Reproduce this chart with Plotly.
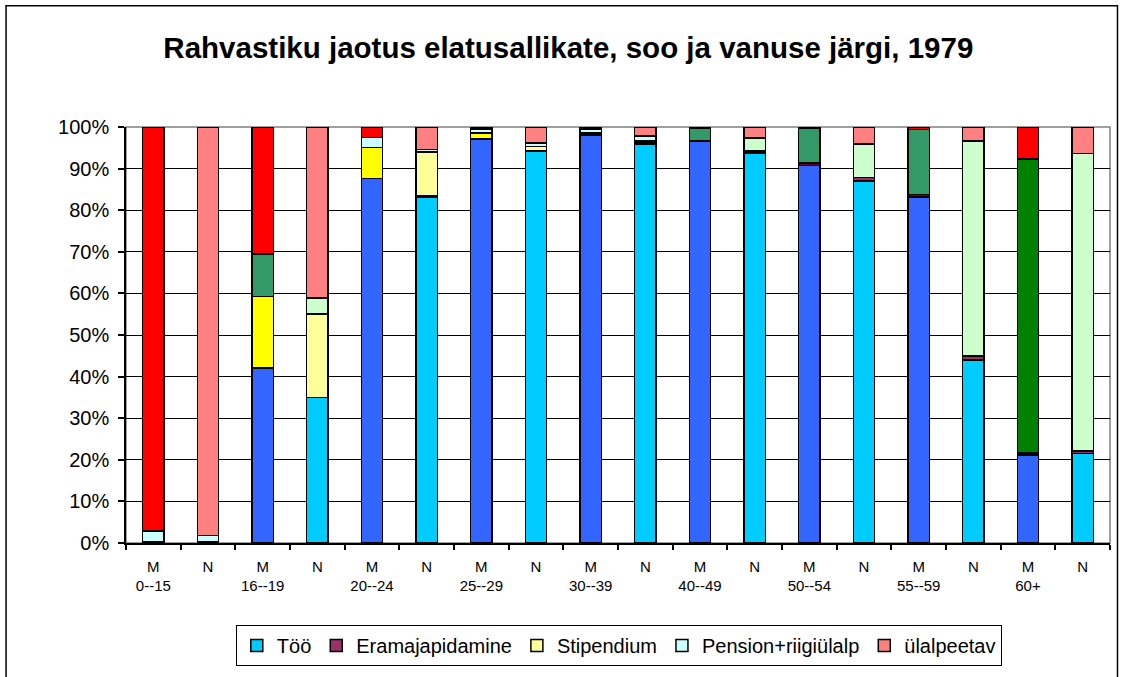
import plotly.graph_objects as go

# Age groups; each group has a bar for men (M) and women (N)
age_groups = ["0--15", "16--19", "20--24", "25--29", "30--39",
              "40--49", "50--54", "55--59", "60+"]
sexes = ["M", "N"]

# Share of population by source of income, %, bars in order M, N, M, N, ...
too = [0.2, 0.3, 42.1, 35.0, 87.6, 83.2, 97.0, 94.2, 98.0,
       95.9, 96.6, 93.8, 90.8, 87.0, 83.2, 44.0, 21.1, 21.5]
eramajapidamine = [0.0, 0.0, 0.0, 0.0, 0.0, 0.2, 0.2, 0.2, 0.3,
                   0.5, 0.2, 0.4, 0.6, 0.9, 0.6, 1.0, 0.5, 0.6]
stipendium = [0.0, 0.0, 17.2, 20.0, 7.5, 10.6, 1.3, 0.9, 0.2,
              0.3, 0.0, 0.1, 0.0, 0.0, 0.0, 0.0, 0.0, 0.0]
pension = [2.7, 1.5, 10.2, 3.9, 2.4, 0.6, 1.0, 0.9, 1.0,
           1.1, 2.9, 3.1, 8.2, 8.0, 15.6, 51.6, 70.7, 71.5]
ulalpeetav = [97.1, 98.2, 30.5, 41.1, 2.5, 5.4, 0.5, 3.8, 0.5,
              2.2, 0.3, 2.6, 0.4, 4.1, 0.6, 3.4, 7.7, 6.4]

series_names = ["Töö", "Eramajapidamine", "Stipendium",
                "Pension+riigiülalp", "ülalpeetav"]
series_values = [too, eramajapidamine, stipendium, pension, ulalpeetav]

# Fill colours: darker shades for men, lighter for women
colors_m = ["#3366FF", "#660033", "#FFFF00", None, "#FF0000"]
colors_n = ["#00CCFF", "#993366", "#FFFF99", None, "#FF8080"]
# pension segment shade varies by age group
pension_colors_m = ["#CCFFFF", "#339966", "#CCFFFF", "#CCFFFF", "#CCFFFF",
                    "#339966", "#339966", "#339966", "#008000"]
pension_colors_n = ["#CCFFFF", "#CCFFCC", "#CCFFFF", "#CCFFFF", "#CCFFFF",
                    "#CCFFCC", "#CCFFCC", "#CCFFCC", "#CCFFCC"]

n_bars = len(age_groups) * len(sexes)
x_all = list(range(n_bars))
x_m = x_all[0::2]
x_n = x_all[1::2]

tick_text = []
for age in age_groups:
    tick_text.append("M<br>" + age)
    tick_text.append("N")

fig = go.Figure()
for i, (name, vals) in enumerate(zip(series_names, series_values)):
    cm = pension_colors_m if colors_m[i] is None else colors_m[i]
    cn = pension_colors_n if colors_n[i] is None else colors_n[i]
    fig.add_trace(go.Bar(
        x=x_m, y=vals[0::2], name=name, legendgroup=name, showlegend=False,
        marker=dict(color=cm, line=dict(color="black", width=1.5)),
        width=0.39, hoverinfo="skip",
    ))
    fig.add_trace(go.Bar(
        x=x_n, y=vals[1::2], name=name, legendgroup=name, showlegend=True,
        marker=dict(color=cn, line=dict(color="black", width=1.5)),
        width=0.39, hoverinfo="skip",
    ))

font_family = "Liberation Sans, Arial, sans-serif"

fig.update_layout(
    width=1121, height=677,
    barmode="stack",
    paper_bgcolor="white", plot_bgcolor="white",
    margin=dict(l=126, r=10.5, t=127, b=131.5),
    font=dict(family=font_family, color="black"),
    title=dict(
        text="<b>Rahvastiku jaotus elatusallikate, soo ja vanuse järgi, 1979</b>",
        font=dict(family=font_family, size=29.5, color="black"),
        x=0.507, xanchor="center", xref="container",
        y=0.929, yanchor="middle", yref="container",
    ),
    xaxis=dict(
        range=[-0.5, n_bars - 0.5],
        tickmode="array", tickvals=x_all, ticktext=tick_text,
        ticks="outside", ticklen=0, tickfont=dict(size=15),
        ticklabelstandoff=9,
        showgrid=False, zeroline=False,
        showline=True, linecolor="black", linewidth=1.5,
        minor=dict(ticks="outside", ticklen=5, tickwidth=1.5,
                   tickcolor="black", tick0=-0.5, dtick=1, showgrid=False),
    ),
    yaxis=dict(
        range=[0, 100], dtick=10, ticksuffix="%",
        ticks="outside", ticklen=6, tickwidth=1.5, tickcolor="black",
        tickfont=dict(size=20), ticklabelstandoff=5,
        showgrid=True, gridcolor="black", gridwidth=1,
        zeroline=False,
        showline=True, linecolor="black", linewidth=1.5,
    ),
    legend=dict(
        orientation="h",
        x=0.5008, xanchor="center",
        y=-0.197, yanchor="top",
        bordercolor="black", borderwidth=1, bgcolor="white",
        font=dict(size=20, family=font_family),
        traceorder="normal",
    ),
    shapes=[
        # plot area border (top and right sides appear grey)
        dict(type="rect", xref="paper", yref="paper",
             x0=0, x1=1, y0=0, y1=1,
             line=dict(color="#808080", width=1.5), layer="below"),
        # outer chart frame, running off the bottom edge of the page
        dict(type="rect", xref="paper", yref="paper",
             x0=-0.1219, x1=1.0076, y0=-0.34, y1=1.2915,
             line=dict(color="black", width=1.5), layer="below"),
    ],
)

fig.write_html("out.html")
